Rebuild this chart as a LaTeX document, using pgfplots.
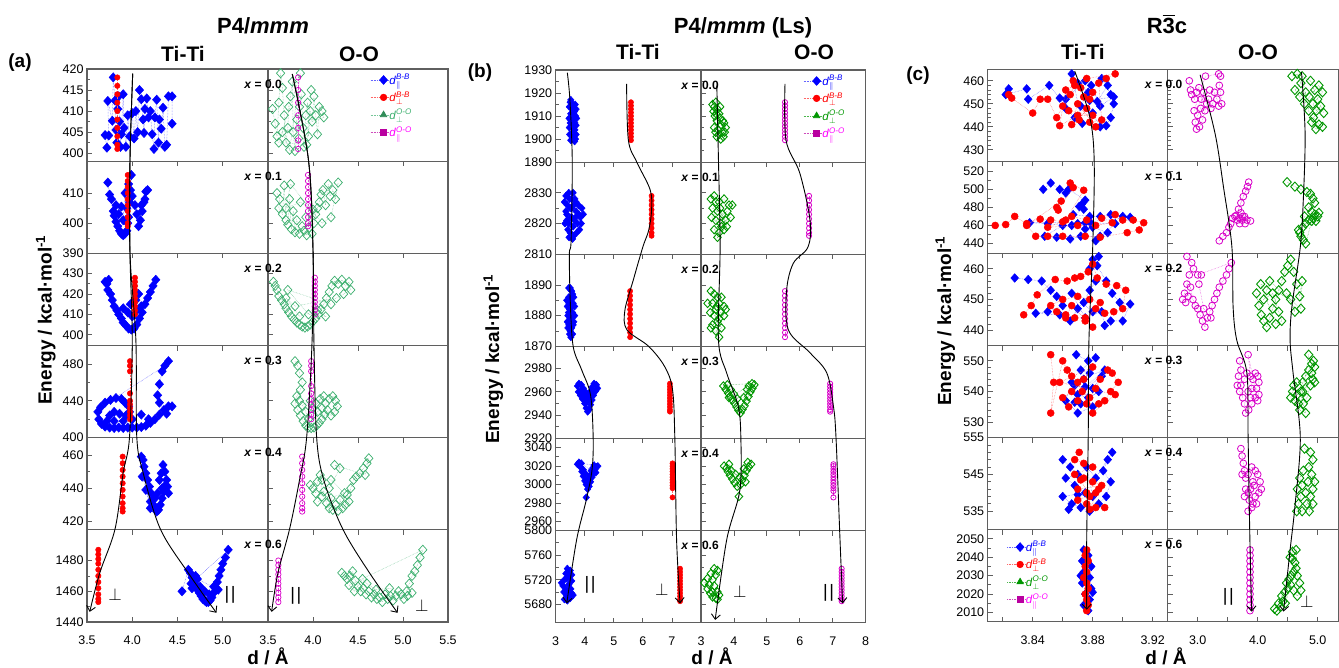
\documentclass[border=0pt]{standalone}
\usepackage{pgfplots}
\pgfplotsset{compat=1.18}
\usepackage{amsmath}
\usepackage{fontspec}
\setmainfont{Liberation Sans}
\usetikzlibrary{arrows.meta}
\definecolor{frameC}{RGB}{95,95,95}
\definecolor{gA}{RGB}{60,175,110}
\definecolor{gB}{RGB}{0,150,0}
\definecolor{mC}{RGB}{215,0,200}
\definecolor{mL}{RGB}{185,0,160}
\definecolor{mT}{RGB}{255,0,255}
\newcommand{\tk}{\fontsize{12.5}{15}\selectfont}
\tikzset{
  sBa/.style={blue!60, densely dotted, line width=0.5pt, mark=diamond*, mark size=4.6pt, mark options={solid, xscale=1.2, draw=blue, fill=blue}},
  sRa/.style={red!60, densely dotted, line width=0.5pt, mark=*, mark size=2.7pt, mark options={solid, draw=red, fill=red}},
  sGa/.style={gA!70, densely dotted, line width=0.5pt, mark=diamond, mark size=4.6pt, mark options={solid, xscale=1.2, draw=gA, line width=0.7pt}},
  sMa/.style={mC!70, densely dotted, line width=0.5pt, mark=o, mark size=2.7pt, mark options={solid, draw=mC, line width=0.7pt}},
  sBb/.style={blue!60, densely dotted, line width=0.5pt, mark=diamond*, mark size=3.6pt, mark options={solid, xscale=1.2, draw=blue, fill=blue}},
  sRb/.style={red!60, densely dotted, line width=0.5pt, mark=*, mark size=2.6pt, mark options={solid, draw=red, fill=red}},
  sGb/.style={gB!70, densely dotted, line width=0.5pt, mark=diamond, mark size=4.2pt, mark options={solid, xscale=1.2, draw=gB, line width=0.9pt}},
  sMb/.style={mC!70, densely dotted, line width=0.5pt, mark=o, mark size=2.6pt, mark options={solid, draw=mC, line width=0.8pt}},
  sBc/.style={blue!60, densely dotted, line width=0.5pt, mark=diamond*, mark size=4.3pt, mark options={solid, xscale=1.2, draw=blue, fill=blue}},
  sRc/.style={red!60, densely dotted, line width=0.5pt, mark=*, mark size=3.5pt, mark options={solid, draw=red, fill=red}},
  sGc/.style={gB!70, densely dotted, line width=0.5pt, mark=diamond, mark size=4.6pt, mark options={solid, xscale=1.2, draw=gB, line width=0.9pt}},
  sMc/.style={mC!70, densely dotted, line width=0.5pt, mark=o, mark size=3.4pt, mark options={solid, draw=mC, line width=0.8pt}},
  lB/.style={blue!60, densely dotted, line width=0.6pt, mark=diamond*, mark size=4.4pt, mark options={solid, xscale=1.2, draw=blue, fill=blue}},
  lR/.style={red!60, densely dotted, line width=0.6pt, mark=*, mark size=3.3pt, mark options={solid, draw=red, fill=red}},
  lGa/.style={gA!70, densely dotted, line width=0.6pt, mark=triangle*, mark size=3.8pt, mark options={solid, draw=gA!80!black, fill=gA!80!black}},
  lGb/.style={gB!70, densely dotted, line width=0.6pt, mark=triangle*, mark size=3.8pt, mark options={solid, draw=gB, fill=gB}},
  lM/.style={mL!70, densely dotted, line width=0.6pt, mark=square*, mark size=3.1pt, mark options={solid, draw=mL, fill=mL}},
  xlab/.style={font=\fontsize{12}{14}\selectfont\bfseries, inner sep=0pt, anchor=center, yshift=-15pt},
  sym/.style={font=\fontsize{18}{20}\selectfont, inner sep=0pt, anchor=center},
  ttl/.style={font=\fontsize{21}{25}\selectfont\bfseries, inner sep=0pt, anchor=base},
}
\newcommand{\pll}{|\kern1.6pt|}
\newcommand{\lgt}[3]{\textcolor{#1}{\textit{d}$^{\textit{#2}}_{#3}$}}
\pgfplotsset{
  legend image code/.code={\draw[mark repeat=2,mark phase=2,#1] plot coordinates {(0pt,0pt) (13pt,0pt) (18pt,0pt)};},
  cell/.style={scale only axis, anchor=north west, clip mode=individual,
    axis line style={draw=frameC, line width=1.2pt},
    tick style={draw=frameC, line width=0.8pt},
    major tick length=5pt, minor tick length=3pt, tick align=inside,
    minor y tick num=1, scaled y ticks=false, scaled x ticks=false,
    /pgf/number format/1000 sep={}, /pgf/number format/assume math mode=true,
    tick label style={font=\tk},
    xticklabel style={yshift=-10.5pt}},
  toprow/.style={xtick=\empty},
  midrow/.style={xtick pos=right, xticklabel=\empty},
  botrow/.style={xtick pos=both},
  TT/.style={ytick pos=left},
  OO/.style={ytick pos=left, yticklabel=\empty},
  pA/.style={xmin=3.5, xmax=5.5, xtick={3.5,4,4.5,5,5.5}},
  pB/.style={xmin=3, xmax=8, xtick={3,4,5,6,7,8}},
  pCT/.style={xmin=3.81, xmax=3.93, xtick={3.82,3.84,3.86,3.88,3.90,3.92}},
  pCO/.style={xmin=2.5, xmax=5.342, xtick={3,3.5,4,4.5,5}},
  aT/.style={cell, pA, TT, width=181pt, height=92.17pt},
  aO/.style={cell, pA, OO, width=180pt, height=92.17pt},
  bT/.style={cell, pB, TT, width=145.3pt, height=92.12pt},
  bO/.style={cell, pB, OO, width=164.7pt, height=92.12pt},
  cT/.style={cell, pCT, TT, width=180pt, height=92.07pt},
  cO/.style={cell, pCO, OO, width=170.5pt, height=92.07pt},
  ov/.style={scale only axis, anchor=north west, hide axis, clip=false, ymin=0, ymax=6},
  cv/.style={black, line width=0.9pt, smooth, tension=0.55, no markers, -{Straight Barb[length=5pt,width=9pt]}},
  lgd/.style={legend cell align=left, legend style={draw=none, fill=none, inner sep=0pt, font=\fontsize{11.5}{13}\selectfont, row sep=5pt, nodes={inner sep=0.5pt}}},
}
\begin{document}
\begin{tikzpicture}
\path[use as bounding box] (0pt,0pt) rectangle (1339pt,668pt);
% ================= titles =================
\node[ttl, font=\fontsize{22}{26}\selectfont\bfseries] at (263pt,634.7pt) {P4/\textit{mmm}};
\node[ttl] at (183pt,606.3pt) {Ti-Ti};
\node[ttl] at (359pt,606.3pt) {O-O};
\node[ttl, font=\fontsize{19}{22}\selectfont\bfseries] at (20pt,600.3pt) {(a)};
\node[ttl, font=\fontsize{22}{26}\selectfont\bfseries] at (743pt,634.7pt) {P4/\textit{mmm} (Ls)};
\node[ttl] at (638pt,608pt) {Ti-Ti};
\node[ttl] at (814pt,608pt) {O-O};
\node[ttl, font=\fontsize{19}{22}\selectfont\bfseries] at (480pt,590.7pt) {(b)};
\node[ttl, font=\fontsize{22}{26}\selectfont\bfseries] at (1167pt,634.7pt) {R$\overline{\textbf{3}}$c};
\node[ttl] at (1083pt,608pt) {Ti-Ti};
\node[ttl] at (1258pt,608pt) {O-O};
\node[ttl, font=\fontsize{19}{22}\selectfont\bfseries] at (918pt,587pt) {(c)};
\node[ttl, rotate=90, font=\fontsize{19}{22}\selectfont\bfseries] at (51.5pt,348pt) {Energy / kcal·mol\textsuperscript{-1}};
\node[ttl, rotate=90, font=\fontsize{19}{22}\selectfont\bfseries] at (499pt,309pt) {Energy / kcal·mol\textsuperscript{-1}};
\node[ttl, rotate=90, font=\fontsize{19}{22}\selectfont\bfseries] at (951pt,347pt) {Energy / kcal·mol\textsuperscript{-1}};
\node[ttl, font=\fontsize{19}{22}\selectfont\bfseries] at (268pt,3pt) {d / Å};
\node[ttl, font=\fontsize{19}{22}\selectfont\bfseries] at (712pt,3pt) {d / Å};
\node[ttl, font=\fontsize{19}{22}\selectfont\bfseries] at (1166pt,3pt) {d / Å};

% ================= PANEL (a) =================
\begin{axis}[aT, toprow, at={(87pt,599pt)}, ymin=398.1, ymax=420, ytick={400,405,410,415,420}]
\addplot[sBa] coordinates {(3.70,404.3)(3.72,401.3)(3.74,404.2)(3.73,412.4)(3.78,407.7)(3.79,418)(3.81,412.5)(3.82,405.5)(3.83,402.5)(3.84,410.5)(3.85,413.5)(3.86,407.5)(3.87,401.5)(3.88,404.5)(3.90,414)(3.91,406)(3.93,401.5)(3.95,409)(3.97,404)(4.00,409.5)(4.02,403.5)(4.04,410)(4.06,405)(4.08,415)(4.10,412.8)(4.12,408)(4.13,404.8)(4.14,410.5)(4.16,413)(4.18,408.5)(4.20,410)(4.22,404.5)(4.24,401)(4.25,408.5)(4.27,412.7)(4.29,402.5)(4.30,408)(4.32,405.8)(4.34,410.8)(4.36,401.5)(4.38,402)(4.40,413.5)(4.44,413.5)(4.44,407)};
\addplot[sRa] coordinates {(3.835,418)(3.835,416)(3.835,414)(3.835,412)(3.835,410)(3.835,408)(3.835,406)(3.835,404)(3.835,402)(3.835,401)};
\end{axis}
\begin{axis}[aO, toprow, at={(268pt,599pt)}, ymin=398.1, ymax=420, ytick={400,405,410,415,420}, lgd, legend style={at={(rel axis cs:0.567,0.95)}, anchor=north west}]
\addlegendimage{lB}\addlegendentry{\lgt{blue}{B-B}{\parallel}}
\addlegendimage{lR}\addlegendentry{\lgt{red}{B-B}{\perp}}
\addlegendimage{lGa}\addlegendentry{\lgt{gA}{O-O}{\perp}}
\addlegendimage{lM}\addlegendentry{\lgt{mT}{O-O}{\parallel}}
\addplot[sGa, forget plot] coordinates {(3.55,410.5)(3.58,407)(3.60,404)(3.62,412)(3.64,419)(3.66,415.5)(3.68,409)(3.70,402.5)(3.72,406)(3.73,411)(3.75,413.5)(3.77,417)(3.78,405)(3.80,400.5)(3.82,408)(3.84,403.5)(3.85,411)(3.87,414)(3.89,406)(3.90,401.5)(3.92,409)(3.94,412)(3.95,404)(3.97,410)(3.99,407.5)(4.01,413.5)(4.03,409)(4.05,404.5)(4.07,411)(4.10,410)(4.12,408.5)(3.66,405)(3.74,400.8)(3.86,419)(3.62,402.5)(3.93,402)(3.98,415)};
\addplot[sMa, forget plot] coordinates {(3.835,418)(3.835,415)(3.835,412)(3.835,409)(3.835,406)(3.835,403)(3.835,401)};
\node[xlab, xshift=-5pt] at (rel axis cs:0,1) {\textit{x} = 0.0};
\end{axis}
\begin{axis}[aT, midrow, at={(87pt,506.83pt)}, ymin=390, ymax=420.6, ytick={390,400,410}]
\addplot[sBa] coordinates {(3.73,413.5)(3.75,409.5)(3.77,408)(3.79,404)(3.80,402.5)(3.82,400.5)(3.84,399)(3.86,397.5)(3.88,396.5)(3.90,396)(3.92,396.5)(3.94,397.5)(3.95,400)(3.96,402)(3.94,405)(3.97,407)(3.98,411)(3.99,416)(3.96,413)(4.00,409)(4.03,406)(4.05,403)(4.07,399)(4.09,401)(4.11,404)(4.13,407)(4.15,410.5)(4.17,411)(4.14,408)(4.10,406)(3.85,403)(3.88,405.5)(3.82,406)(3.90,401)(3.92,410)};
\addplot[sRa] coordinates {(3.95,416)(3.95,414)(3.95,412)(3.95,410)(3.95,408)(3.95,406)(3.95,404)(3.95,402)(3.95,400)(3.95,399)};
\end{axis}
\begin{axis}[aO, midrow, at={(268pt,506.83pt)}, ymin=390, ymax=420.6, ytick={390,400,410}]
\addplot[sGa] coordinates {(3.60,410)(3.63,408)(3.62,405)(3.66,403)(3.68,412.5)(3.70,401)(3.72,399.5)(3.74,408)(3.76,398)(3.78,404)(3.80,397)(3.82,401)(3.85,396.5)(3.88,399)(3.90,397.5)(3.93,396)(3.96,398.5)(3.99,396.5)(4.01,400)(4.03,403)(4.05,405)(4.07,407)(4.09,409.5)(4.11,411)(4.14,406)(4.17,413)(4.19,409)(4.22,411)(4.25,408)(4.28,413.5)(4.20,402)(4.10,400)(3.75,413)(3.70,405)(3.86,407)(4.00,404.5)(3.92,402)};
\addplot[sMa] coordinates {(3.945,416)(3.945,414)(3.945,412)(3.945,410)(3.945,408)(3.945,406)(3.945,404)(3.945,402)(3.945,400)(3.945,399)};
\node[xlab, xshift=-5pt] at (rel axis cs:0,1) {\textit{x} = 0.1};
\end{axis}
\begin{axis}[aT, midrow, at={(87pt,414.66pt)}, ymin=394.7, ymax=440, ytick={400,410,420,430}]
\addplot[sBa] coordinates {(3.70,426)(3.72,425)(3.74,427)(3.73,422)(3.76,420)(3.78,417)(3.80,414)(3.83,412)(3.85,410)(3.88,408)(3.90,406)(3.93,404.5)(3.96,403)(3.99,402.5)(4.02,403)(4.05,405)(4.08,408)(4.11,411)(4.14,415)(4.17,418)(4.20,421)(4.23,424)(4.26,427)(4.10,414)(4.05,412)(4.00,409)(3.95,411)(4.04,417)(3.98,415)(3.90,413)(4.07,420)};
\addplot[sRa] coordinates {(4.03,428)(4.03,426)(4.03,424)(4.03,422)(4.03,420)(4.03,418)(4.03,416)(4.03,414)(4.03,412)(4.03,410)};
\end{axis}
\begin{axis}[aO, midrow, at={(268pt,414.66pt)}, ymin=394.7, ymax=440, ytick={400,410,420,430}]
\addplot[sGa] coordinates {(3.56,426)(3.58,424)(3.60,422)(3.62,419)(3.65,417)(3.68,415)(3.70,413)(3.73,411)(3.76,409)(3.79,407.5)(3.82,406)(3.85,405)(3.88,404)(3.91,403.5)(3.94,404)(3.97,405)(4.00,406.5)(4.03,408)(4.06,410)(4.09,412.5)(4.12,415)(4.15,418)(4.18,421)(4.21,424)(4.24,426.5)(4.28,425)(4.32,427)(4.36,424)(4.40,426)(4.42,422)(4.34,420)(4.26,418)(3.80,414)(3.70,418)(3.85,409)(4.05,412)(4.14,409)(3.95,410)(3.72,422)(4.20,415)};
\addplot[sMa] coordinates {(4.02,428)(4.02,426)(4.02,424)(4.02,422)(4.02,420)(4.02,418)(4.02,416)(4.02,414)(4.02,412)(4.02,410)};
\node[xlab, xshift=-5pt] at (rel axis cs:0,1) {\textit{x} = 0.2};
\end{axis}
\begin{axis}[aT, midrow, at={(87pt,322.49pt)}, ymin=400, ymax=500, ytick={400,440,480}]
\addplot[sBa] coordinates {(3.62,428)(3.63,420)(3.66,415)(3.70,412)(3.75,411)(3.80,410.5)(3.85,411)(3.90,410.5)(3.95,411)(4.00,411)(4.05,411)(4.10,411.5)(4.15,413)(4.20,416)(4.25,420)(4.30,425)(4.35,430)(4.40,434)(4.44,434)(4.38,426)(4.30,438)(4.28,446)(4.30,458)(4.33,472)(4.40,483)(4.36,478)(3.65,433)(3.70,438)(3.76,441)(3.82,443)(3.88,442)(3.92,438)(3.96,434)(3.97,428)(3.93,424)(3.86,426)(3.80,428)(3.75,424)(3.72,418)(3.80,418)(3.90,418)(4.00,420)(4.10,425)(4.18,420)};
\addplot[sRa] coordinates {(3.975,483)(3.975,478)(3.975,472)(3.975,448)(3.975,440)(3.975,436)(3.975,432)(3.975,428)(3.975,424)(3.975,420)};
\end{axis}
\begin{axis}[aO, midrow, at={(268pt,322.49pt)}, ymin=400, ymax=500, ytick={400,440,480}]
\addplot[sGa] coordinates {(3.80,483)(3.83,478)(3.85,470)(3.88,460)(3.86,452)(3.82,445)(3.80,437)(3.83,430)(3.86,424)(3.89,418)(3.92,413)(3.95,411)(3.98,410.5)(4.01,411)(4.04,413)(4.07,416)(4.10,420)(4.13,425)(4.16,430)(4.20,424)(4.24,428)(4.27,434)(4.25,440)(4.22,445)(4.18,442)(4.14,437)(4.10,432)(4.05,428)(4.00,425)(3.95,420)(3.92,428)(3.88,435)(3.97,440)(4.03,437)(4.08,442)(4.12,445)(4.00,432)(3.85,440)};
\addplot[sMa] coordinates {(3.98,483)(3.98,478)(3.98,472)(3.98,456)(3.98,448)(3.98,442)(3.98,436)(3.98,430)(3.98,425)(3.98,420)};
\node[xlab, xshift=-5pt] at (rel axis cs:0,1) {\textit{x} = 0.3};
\end{axis}
\begin{axis}[aT, midrow, at={(87pt,230.32pt)}, ymin=415, ymax=470.4, ytick={420,440,460}]
\addplot[sBa] coordinates {(4.10,459)(4.12,457)(4.13,453)(4.15,449)(4.17,445)(4.19,441)(4.21,437)(4.23,433)(4.25,429)(4.27,426)(4.29,427)(4.31,430)(4.33,434)(4.35,438)(4.37,442)(4.39,441)(4.40,437)(4.38,445)(4.36,450)(4.34,454)(4.32,449)(4.30,445)(4.33,440)(4.28,437)(4.25,434)(4.20,428)(4.15,439)(4.20,432)(4.11,447)};
\addplot[sRa] coordinates {(3.894,459)(3.894,455)(3.894,451)(3.894,447)(3.894,443)(3.894,439)(3.894,435)(3.894,431)(3.894,428)(3.894,426)};
\end{axis}
\begin{axis}[aO, midrow, at={(268pt,230.32pt)}, ymin=415, ymax=470.4, ytick={420,440,460}]
\addplot[sGa] coordinates {(3.97,442)(4.00,440)(4.03,437)(4.05,444)(4.08,448)(4.10,435)(4.12,438)(4.15,431)(4.18,428)(4.20,434)(4.22,427)(4.25,430)(4.28,426.5)(4.30,433)(4.33,428)(4.36,430)(4.38,436)(4.40,432)(4.42,440)(4.45,445)(4.48,447)(4.52,449)(4.56,452)(4.60,455)(4.62,458)(4.58,448)(4.24,454)(4.30,452)(4.18,440)(4.10,445)(4.20,445)(4.35,437)(4.05,432)};
\addplot[sMa] coordinates {(3.88,459)(3.88,455)(3.88,451)(3.88,447)(3.88,443)(3.88,439)(3.88,435)(3.88,431)(3.88,428)(3.88,426)};
\node[xlab, xshift=-5pt] at (rel axis cs:0,1) {\textit{x} = 0.4};
\end{axis}
\begin{axis}[aT, botrow, at={(87pt,138.15pt)}, ymin=1440, ymax=1500, ytick={1440,1460,1480}, xticklabels={3.5,4.0,4.5,5.0,}]
\addplot[sBa] coordinates {(4.55,1460)(4.62,1474)(4.64,1472)(4.66,1469)(4.68,1467)(4.70,1464)(4.72,1461)(4.74,1459)(4.76,1457)(4.78,1455)(4.80,1454)(4.82,1453)(4.84,1453)(4.86,1454)(4.88,1456)(4.90,1459)(4.92,1462)(4.94,1466)(4.96,1470)(4.98,1474)(5.00,1478)(5.03,1482)(5.06,1487)(4.65,1465)(4.70,1470)(4.75,1463)(4.80,1460)(4.85,1458)(4.90,1463)(4.95,1461)(4.72,1468)(4.66,1462)};
\addplot[sRa] coordinates {(3.625,1487)(3.625,1484)(3.625,1481)(3.625,1478)(3.625,1474)(3.625,1470)(3.625,1466)(3.625,1462)(3.625,1458)(3.625,1455)(3.625,1453)};
\node[sym] at (axis cs:3.81,1457.6) {$\perp$};
\node[sym] at (axis cs:5.08,1457.6) {\pll};
\end{axis}
\begin{axis}[aO, botrow, at={(268pt,138.15pt)}, ymin=1440, ymax=1500, ytick={1440,1460,1480}, xticklabels={3.5,4.0,4.5,5.0,5.5}]
\addplot[sGa] coordinates {(4.32,1472)(4.35,1470)(4.38,1468)(4.41,1470)(4.44,1473)(4.47,1467)(4.50,1463)(4.53,1460)(4.56,1462)(4.59,1458)(4.62,1460)(4.65,1456)(4.68,1458)(4.71,1455)(4.74,1456)(4.77,1453)(4.80,1458)(4.83,1455)(4.86,1457)(4.89,1454)(4.92,1457)(4.95,1460)(4.98,1458)(5.01,1455)(5.04,1460)(5.07,1465)(5.10,1470)(5.13,1473)(5.16,1477)(5.19,1482)(5.22,1487)(4.40,1464)(4.46,1460)(4.55,1468)(4.60,1465)(4.70,1461)(4.85,1462)(5.05,1457)(5.10,1459)};
\addplot[sMa] coordinates {(3.615,1480)(3.615,1477)(3.615,1474)(3.615,1471)(3.615,1468)(3.615,1465)(3.615,1462)(3.615,1459)(3.615,1456)(3.615,1453)};
\node[xlab, xshift=-5pt] at (rel axis cs:0,1) {\textit{x} = 0.6};
\node[sym] at (axis cs:3.81,1457) {\pll};
\node[sym] at (axis cs:5.21,1451) {$\perp$};
\end{axis}
\begin{axis}[ov, at={(87pt,599pt)}, width=181pt, height=553.02pt, xmin=3.5, xmax=5.5]
\addplot[cv] coordinates {(4.005,5.95)(3.975,5.01)(3.975,4.0)(4.0,3.06)(3.97,2.01)(3.90,1.62)(3.81,1.01)(3.64,0.53)(3.53,0.11)};
\addplot[cv] coordinates {(4.005,5.95)(3.975,5.01)(3.975,4.0)(4.04,3.06)(4.05,2.01)(4.12,1.62)(4.31,1.01)(4.62,0.53)(4.93,0.10)};
\end{axis}
\begin{axis}[ov, at={(268pt,599pt)}, width=180pt, height=553.02pt, xmin=3.5, xmax=5.5]
\addplot[cv] coordinates {(3.77,5.945)(3.95,5.01)(4.0,4.04)(3.99,3.06)(3.93,2.01)(3.85,1.54)(3.74,1.01)(3.61,0.53)(3.54,0.11)};
\addplot[cv] coordinates {(3.77,5.945)(3.95,5.01)(4.0,4.04)(4.01,3.06)(4.04,2.01)(4.12,1.54)(4.33,1.01)(4.63,0.53)(4.94,0.10)};
\end{axis}

% ================= PANEL (b) =================
\begin{axis}[bT, toprow, at={(555.7pt,598pt)}, ymin=1890, ymax=1930, ytick={1890,1900,1910,1920,1930}]
\addplot[sBb] coordinates {(3.50,1916)(3.55,1914)(3.60,1915)(3.65,1912)(3.52,1911)(3.58,1909)(3.63,1907)(3.68,1910)(3.55,1905)(3.60,1903)(3.48,1902)(3.57,1900)(3.62,1901)(3.66,1904)(3.53,1908)(3.70,1906)(3.65,1899)(3.58,1913)(3.50,1907)(3.62,1911)(3.47,1914)(3.52,1917)(3.67,1915)(3.70,1913)(3.46,1909)(3.72,1909)(3.66,1907)(3.47,1905)(3.70,1902)(3.52,1899.5)(3.58,1902)(3.63,1904)(3.55,1911)(3.68,1900)};
\addplot[sRb] coordinates {(5.59,1916)(5.59,1914.5)(5.59,1913)(5.59,1911.5)(5.59,1910)(5.59,1908.5)(5.59,1907)(5.59,1905.5)(5.59,1904)(5.59,1902.5)(5.59,1901)(5.59,1899.5)};
\end{axis}
\begin{axis}[bO, toprow, at={(701pt,598pt)}, ymin=1890, ymax=1930, ytick={1890,1900,1910,1920,1930}, lgd, legend style={at={(rel axis cs:0.62,0.95)}, anchor=north west}]
\addlegendimage{lB}\addlegendentry{\lgt{blue}{B-B}{\parallel}}
\addlegendimage{lR}\addlegendentry{\lgt{red}{B-B}{\perp}}
\addlegendimage{lGb}\addlegendentry{\lgt{gB}{O-O}{\perp}}
\addlegendimage{lM}\addlegendentry{\lgt{mT}{O-O}{\parallel}}
\addplot[sGb, forget plot] coordinates {(3.35,1915)(3.40,1914)(3.45,1916)(3.50,1913)(3.55,1911)(3.42,1910)(3.48,1908)(3.58,1909)(3.62,1906)(3.70,1907)(3.75,1905)(3.65,1903)(3.55,1902)(3.48,1901)(3.60,1900)(3.68,1901)(3.52,1904)(3.40,1905)(3.38,1912)(3.46,1911)(3.58,1914)(3.66,1908)(3.72,1903)(3.44,1903)};
\addplot[sMb, forget plot] coordinates {(5.55,1916)(5.55,1914.5)(5.55,1913)(5.55,1911.5)(5.55,1910)(5.55,1908.5)(5.55,1907)(5.55,1905.5)(5.55,1904)(5.55,1902.5)(5.55,1901)(5.55,1899.5)};
\node[xlab, xshift=-1pt] at (rel axis cs:0,1) {\textit{x} = 0.0};
\end{axis}
\begin{axis}[bT, midrow, at={(555.7pt,505.88pt)}, ymin=2810, ymax=2840, ytick={2810,2820,2830}]
\addplot[sBb] coordinates {(3.35,2829)(3.45,2830)(3.55,2828)(3.40,2826)(3.50,2825)(3.62,2826)(3.70,2824)(3.38,2823)(3.55,2822)(3.65,2821)(3.80,2823)(3.45,2820)(3.60,2819)(3.75,2820)(3.50,2817)(3.62,2816)(3.85,2822)(3.42,2818)(3.70,2827)(3.55,2825)(3.90,2825)(3.30,2827)(3.35,2824)(3.32,2820)(3.48,2828)(3.60,2830)(3.66,2828)(3.78,2826)(3.88,2820)(3.82,2818)(3.72,2817)(3.58,2815)(3.46,2815.5)(3.38,2821)(3.95,2823)(3.52,2822)(3.68,2822)};
\addplot[sRb] coordinates {(6.30,2829)(6.30,2827.5)(6.30,2826)(6.30,2824.5)(6.30,2823)(6.30,2821.5)(6.30,2820)(6.30,2818.5)(6.30,2817)(6.30,2816)};
\end{axis}
\begin{axis}[bO, midrow, at={(701pt,505.88pt)}, ymin=2810, ymax=2840, ytick={2810,2820,2830}]
\addplot[sGb] coordinates {(3.30,2828)(3.40,2829)(3.55,2827)(3.70,2828)(3.85,2826)(3.95,2826)(3.35,2825)(3.50,2824)(3.65,2823)(3.80,2824)(3.45,2821)(3.60,2820)(3.75,2821)(3.90,2822)(3.40,2818)(3.55,2817)(3.70,2818)(3.50,2815.5)(3.62,2819)(3.32,2822)(3.58,2825)(3.78,2819)(3.45,2827)};
\addplot[sMb] coordinates {(6.28,2829)(6.28,2827.5)(6.28,2826)(6.28,2824.5)(6.28,2823)(6.28,2821.5)(6.28,2820)(6.28,2818.5)(6.28,2817)(6.28,2816)};
\node[xlab, xshift=-1pt] at (rel axis cs:0,1) {\textit{x} = 0.1};
\end{axis}
\begin{axis}[bT, midrow, at={(555.7pt,413.76pt)}, ymin=1870, ymax=1900, ytick={1870,1880,1890}]
\addplot[sBb] coordinates {(3.50,1889)(3.55,1888)(3.45,1886)(3.52,1885)(3.60,1884)(3.40,1883)(3.48,1882)(3.58,1881)(3.42,1880)(3.50,1879)(3.62,1880)(3.45,1877)(3.55,1876)(3.48,1874)(3.52,1873)(3.60,1877)(3.40,1878)(3.65,1883)(3.45,1889)(3.58,1887)(3.62,1886)(3.38,1885)(3.46,1884)(3.55,1883)(3.62,1878)(3.42,1876)(3.58,1874)(3.44,1881)(3.56,1880)(3.50,1875)(3.65,1880)};
\addplot[sRb] coordinates {(5.56,1888)(5.56,1886.5)(5.56,1885)(5.56,1883.5)(5.56,1882)(5.56,1880.5)(5.56,1879)(5.56,1877.5)(5.56,1876)(5.56,1874.5)(5.56,1873)};
\end{axis}
\begin{axis}[bO, midrow, at={(701pt,413.76pt)}, ymin=1870, ymax=1900, ytick={1870,1880,1890}]
\addplot[sGb] coordinates {(3.30,1888)(3.40,1887)(3.50,1886)(3.20,1884)(3.35,1884)(3.55,1884)(3.70,1883)(3.45,1882)(3.60,1881)(3.40,1880)(3.55,1879)(3.70,1880)(3.35,1877)(3.50,1878)(3.62,1876)(3.45,1875)(3.55,1873)(3.30,1876)(3.75,1882)(3.62,1886)(3.28,1881)(3.48,1883)};
\addplot[sMb] coordinates {(5.55,1888)(5.55,1886.5)(5.55,1885)(5.55,1883.5)(5.55,1882)(5.55,1880.5)(5.55,1879)(5.55,1877.5)(5.55,1876)(5.55,1874.5)(5.55,1873)};
\node[xlab, xshift=-1pt] at (rel axis cs:0,1) {\textit{x} = 0.2};
\end{axis}
\begin{axis}[bT, midrow, at={(555.7pt,321.64pt)}, ymin=2920, ymax=2999, ytick={2920,2940,2960,2980}]
\addplot[sBb] coordinates {(3.75,2965)(3.80,2967)(3.88,2966)(3.95,2963)(3.78,2960)(3.85,2957)(3.92,2954)(4.00,2950)(4.05,2946)(4.10,2943)(4.15,2945)(4.20,2949)(4.25,2953)(4.30,2957)(4.38,2961)(4.44,2963)(4.40,2966)(4.32,2967)(4.25,2964)(4.18,2960)(4.10,2957)(4.02,2960)(3.95,2958)(4.08,2952)(4.15,2954)(4.22,2958)(3.90,2962)(4.35,2960)(4.00,2955)};
\addplot[sRb] coordinates {(6.93,2967)(6.93,2964.5)(6.93,2962)(6.93,2959.5)(6.93,2957)(6.93,2954.5)(6.93,2952)(6.93,2949.5)(6.93,2947)(6.93,2944.5)(6.93,2943)};
\end{axis}
\begin{axis}[bO, midrow, at={(701pt,321.64pt)}, ymin=2920, ymax=2999, ytick={2920,2940,2960,2980}]
\addplot[sGb] coordinates {(3.68,2965)(3.75,2962)(3.82,2959)(3.88,2956)(3.95,2953)(4.02,2950)(4.08,2947)(4.14,2944)(4.20,2942)(4.26,2945)(4.32,2948)(4.38,2952)(4.44,2956)(4.50,2960)(4.56,2963)(4.62,2966)(4.55,2967)(3.80,2966)(3.90,2962)(4.00,2958)(4.10,2954)(4.40,2962)(4.30,2955)(3.85,2955)(4.45,2965)};
\addplot[sMb] coordinates {(6.92,2967)(6.92,2964.5)(6.92,2962)(6.92,2959.5)(6.92,2957)(6.92,2954.5)(6.92,2952)(6.92,2949.5)(6.92,2947)(6.92,2944.5)(6.92,2943)};
\node[xlab, xshift=-1pt] at (rel axis cs:0,1) {\textit{x} = 0.3};
\end{axis}
\begin{axis}[bT, midrow, at={(555.7pt,229.52pt)}, ymin=2950, ymax=3050, ytick={2960,2980,3000,3020,3040}]
\addplot[sBb] coordinates {(3.75,3022)(3.80,3024)(3.85,3019)(3.90,3014)(3.95,3009)(4.00,3004)(4.05,3000)(4.10,2995)(4.05,2986)(4.15,2998)(4.20,3003)(4.25,3008)(4.30,3012)(4.35,3016)(4.40,3019)(4.45,3020)(4.38,3013)(4.28,3018)(4.18,3010)(4.10,3006)(3.95,3016)(4.02,3012)(4.22,3015)(3.88,3023)(4.32,3021)};
\addplot[sRb] coordinates {(7.02,2986)(7.02,2996)(7.02,2999)(7.02,3002)(7.02,3005)(7.02,3008)(7.02,3011)(7.02,3014)(7.02,3017)(7.02,3020)(7.02,3023)};
\end{axis}
\begin{axis}[bO, midrow, at={(701pt,229.52pt)}, ymin=2950, ymax=3050, ytick={2960,2980,3000,3020,3040}]
\addplot[sGb] coordinates {(3.70,3020)(3.78,3018)(3.82,3014)(3.88,3010)(3.95,3006)(4.02,3002)(4.10,2998)(4.15,2987)(4.20,3000)(4.25,3005)(4.32,3010)(4.38,3015)(4.45,3019)(4.52,3022)(4.42,3024)(4.30,3017)(4.18,3008)(3.92,3015)(4.05,3011)(3.85,3022)(4.35,3003)};
\addplot[sMb] coordinates {(7.02,2986)(7.02,2993)(7.02,2996)(7.02,2999)(7.02,3002)(7.02,3005)(7.02,3008)(7.02,3011)(7.02,3014)(7.02,3017)(7.02,3020)(7.02,3022)};
\node[xlab, xshift=-1pt] at (rel axis cs:0,1) {\textit{x} = 0.4};
\end{axis}
\begin{axis}[bT, botrow, at={(555.7pt,137.4pt)}, ymin=5650, ymax=5800, ytick={5680,5720,5760,5800}, xticklabels={3,4,5,6,7,}]
\addplot[sBb] coordinates {(3.40,5738)(3.50,5735)(3.35,5730)(3.55,5728)(3.45,5725)(3.30,5720)(3.20,5715)(3.25,5710)(3.35,5705)(3.45,5700)(3.55,5698)(3.60,5695)(3.50,5690)(3.40,5686)(3.30,5688)(3.45,5712)(3.55,5718)(3.38,5695)(3.28,5700)(3.48,5732)(3.38,5722)(3.52,5705)};
\addplot[sRb] coordinates {(7.28,5738)(7.28,5733)(7.28,5728)(7.28,5723)(7.28,5718)(7.28,5713)(7.28,5708)(7.28,5703)(7.28,5698)(7.28,5693)(7.28,5688)(7.28,5685)};
\node[sym] at (axis cs:4.18,5712) {\pll};
\node[sym] at (axis cs:6.65,5704) {$\perp$};
\end{axis}
\begin{axis}[bO, botrow, at={(701pt,137.4pt)}, ymin=5650, ymax=5800, ytick={5680,5720,5760,5800}, xticklabels={3,4,5,6,7,8}]
\addplot[sGb] coordinates {(3.40,5738)(3.50,5735)(3.30,5730)(3.45,5728)(3.20,5722)(3.35,5720)(3.10,5715)(3.25,5712)(3.40,5710)(3.20,5705)(3.35,5700)(3.50,5700)(3.55,5695)(3.45,5690)(3.50,5688)(3.35,5692)(3.28,5698)};
\addplot[sMb] coordinates {(7.27,5738)(7.27,5733)(7.27,5728)(7.27,5723)(7.27,5718)(7.27,5713)(7.27,5708)(7.27,5703)(7.27,5698)(7.27,5693)(7.27,5688)(7.27,5685)};
\node[xlab, xshift=-1pt] at (rel axis cs:0,1) {\textit{x} = 0.6};
\node[sym] at (axis cs:4.18,5701) {$\perp$};
\node[sym] at (axis cs:6.87,5698) {\pll};
\end{axis}
\begin{axis}[ov, at={(555.7pt,598pt)}, width=145.3pt, height=552.72pt, xmin=3, xmax=8]
\addplot[cv] coordinates {(3.40,5.97)(3.49,5.67)(3.57,5.0)(3.53,4.15)(3.47,4.0)(3.5,3.5)(3.6,3.0)(3.9,2.74)(4.2,2.47)(4.29,2.0)(4.25,1.66)(4.05,1.33)(3.72,0.9)(3.38,0.21)};
\addplot[cv] coordinates {(5.44,5.85)(5.5,5.24)(5.79,5.0)(6.25,4.70)(6.3,4.48)(6.2,4.26)(6.0,4.08)(5.67,3.72)(5.38,3.39)(5.45,3.18)(6.2,3.0)(6.75,2.78)(7.02,2.53)(7.1,2.0)(7.16,0.9)(7.28,0.21)};
\end{axis}
\begin{axis}[ov, at={(701pt,598pt)}, width=164.7pt, height=552.72pt, xmin=3, xmax=8]
\addplot[cv] coordinates {(3.48,5.83)(3.53,5.02)(3.58,4.08)(3.53,3.07)(3.78,2.71)(4.13,2.35)(4.21,2.0)(4.18,1.44)(3.78,0.9)(3.43,0.03)};
\addplot[cv] coordinates {(5.55,5.85)(5.58,5.24)(6.0,4.88)(6.31,4.37)(6.25,4.08)(5.80,3.9)(5.6,3.61)(5.65,3.18)(6.31,2.93)(6.82,2.71)(7.02,2.35)(7.1,2.0)(7.22,0.9)(7.30,0.21)};
\end{axis}

% ================= PANEL (c) =================
\begin{axis}[cT, toprow, at={(987.7pt,598.7pt)}, ymin=425, ymax=465, ytick={430,440,450,460}, minor y tick num=4]
\addplot[sBc] coordinates {(3.824,456.5)(3.822,454)(3.836,456.5)(3.837,452)(3.851,458)(3.858,452.5)(3.862,448)(3.868,444)(3.873,441.5)(3.866,463)(3.870,459)(3.877,455)(3.872,449)(3.880,446)(3.885,440)(3.889,440.5)(3.892,444)(3.894,450)(3.892,454)(3.886,461)(3.890,458)(3.883,451)(3.878,451.5)(3.894,453)(3.885,449)(3.879,458)(3.875,460)(3.862,452)};
\addplot[sRc] coordinates {(3.824,454)(3.826,452.5)(3.840,446)(3.845,452)(3.850,452)(3.856,444)(3.860,449)(3.865,454)(3.868,458)(3.867,460)(3.872,457)(3.874,453)(3.878,452)(3.880,455)(3.876,448)(3.871,443)(3.866,441)(3.870,450)(3.882,440)(3.878,442)(3.886,443)(3.884,459)(3.889,461)(3.895,463)(3.876,461)(3.862,456)(3.858,440.5)(3.870,445)(3.880,445)(3.864,447)};
\end{axis}
\begin{axis}[cO, toprow, at={(1167.7pt,598.7pt)}, ymin=425, ymax=465, ytick={430,440,450,460}, minor y tick num=4]
\addplot[sGc] coordinates {(4.57,462)(4.66,463)(4.72,459)(4.62,456)(4.70,453)(4.80,455)(4.78,450)(4.86,453)(4.95,456)(5.02,458)(5.08,455)(4.92,450)(4.98,447)(5.05,449)(4.93,444)(5.02,441)(5.08,440)(4.97,439)(4.90,442)(4.85,447)(4.74,462)(4.88,460)(5.00,452)(5.10,446)};
\addplot[sMc] coordinates {(2.86,460)(2.88,456)(2.90,454)(2.95,452)(2.98,455)(3.02,457)(3.06,452)(3.10,455)(3.05,448)(3.00,445)(2.96,442)(2.98,439)(3.03,440)(3.08,443)(3.12,447)(3.15,450)(3.18,452)(3.22,448)(3.25,450)(3.28,455)(3.32,452)(3.35,449)(3.40,450)(3.38,455)(3.36,458)(3.38,462)(3.35,463)(3.13,462)(2.94,447)(3.20,456)};
\node[xlab, xshift=-4pt] at (rel axis cs:0,1) {\textit{x} = 0.0};
\end{axis}
\begin{axis}[cT, midrow, at={(987.7pt,506.63pt)}, ymin=429, ymax=531, ytick={440,460,480,500,520}]
\addplot[sBc] coordinates {(3.847,500)(3.852,507)(3.858,500)(3.862,496)(3.864,500)(3.875,488)(3.873,484)(3.871,481)(3.874,478)(3.867,472)(3.878,470)(3.885,470)(3.892,472)(3.900,470)(3.905,469)(3.878,464)(3.870,462)(3.866,460)(3.875,456)(3.880,458)(3.890,452)(3.885,448)(3.872,448)(3.865,445)(3.856,447)(3.848,448)(3.860,460)(3.850,462)(3.838,463)(3.875,463)(3.895,462)(3.882,443)};
\addplot[sRc] coordinates {(3.815,460)(3.822,461)(3.828,470)(3.836,462)(3.845,467)(3.852,466)(3.860,464)(3.866,470)(3.876,466)(3.886,468)(3.895,472)(3.900,466)(3.907,466)(3.914,463)(3.911,455)(3.903,452)(3.885,447)(3.875,448)(3.860,448)(3.850,448)(3.842,448)(3.836,460)(3.859,487)(3.856,480)(3.857,477)(3.867,502)(3.865,507)(3.874,499)(3.862,466)(3.850,458)(3.870,460)(3.882,460)(3.893,463)};
\end{axis}
\begin{axis}[cO, midrow, at={(1167.7pt,506.63pt)}, ymin=429, ymax=531, ytick={440,460,480,500,520}]
\addplot[sGc] coordinates {(4.49,508)(4.62,503)(4.72,500)(4.82,497)(4.88,495)(4.92,490)(4.95,485)(4.85,480)(4.90,475)(4.95,472)(5.00,470)(4.92,468)(4.85,466)(4.80,462)(4.75,458)(4.70,452)(4.72,448)(4.76,444)(4.80,440)(4.90,465)(4.97,465)(4.78,470)(4.68,455)(5.02,474)};
\addplot[sMc] coordinates {(3.36,443)(3.42,448)(3.48,452)(3.52,458)(3.55,462)(3.58,468)(3.62,470)(3.66,466)(3.70,462)(3.74,466)(3.78,470)(3.82,466)(3.79,462)(3.75,470)(3.72,474)(3.68,478)(3.72,485)(3.76,492)(3.80,498)(3.83,503)(3.85,508)(3.64,471)(3.88,465)(3.70,468)};
\node[xlab, xshift=-4pt] at (rel axis cs:0,1) {\textit{x} = 0.1};
\end{axis}
\begin{axis}[cT, midrow, at={(987.7pt,414.56pt)}, ymin=435, ymax=465, ytick={440,450,460}, minor y tick num=4]
\addplot[sBc] coordinates {(3.828,457)(3.837,456.5)(3.846,456)(3.852,453)(3.856,451)(3.860,448)(3.850,446)(3.842,445.5)(3.858,445)(3.865,443)(3.870,447)(3.874,449)(3.878,453)(3.882,456)(3.878,460)(3.880,463)(3.884,464)(3.883,461)(3.889,456)(3.893,452)(3.898,449)(3.905,448.5)(3.900,443)(3.892,443)(3.888,441.5)(3.886,446)(3.875,444)(3.866,452)(3.880,446)};
\addplot[sRc] coordinates {(3.834,445)(3.839,448)(3.843,451.5)(3.855,456.5)(3.863,456)(3.868,457)(3.872,457.5)(3.877,459)(3.880,461.5)(3.883,457)(3.889,455)(3.896,454.5)(3.902,453)(3.900,447)(3.894,446)(3.888,445.5)(3.882,447)(3.875,444)(3.868,444)(3.862,445)(3.856,446)(3.852,448)(3.860,450)(3.870,451)(3.878,450)(3.885,449)(3.875,443)(3.880,441)(3.866,448)(3.862,444)};
\end{axis}
\begin{axis}[cO, midrow, at={(1167.7pt,414.56pt)}, ymin=435, ymax=465, ytick={440,450,460}, minor y tick num=4]
\addplot[sGc] coordinates {(3.98,452)(4.02,448)(4.06,445)(4.10,443)(4.15,441)(4.20,444)(4.25,447)(4.30,450)(4.35,453)(4.40,456)(4.45,459)(4.50,461)(4.55,463)(4.60,459)(4.65,455)(4.70,451)(4.74,456)(4.72,447)(4.20,456)(4.15,453)(4.10,450)(4.25,452)(4.35,446)(4.40,443)(4.30,442)(4.05,455)(4.55,450)(4.62,446)(4.48,452)};
\addplot[sMc] coordinates {(2.82,464)(2.90,462)(2.93,460)(2.86,458)(2.82,455)(2.78,452)(2.75,450)(2.80,449)(2.84,451)(2.88,454)(2.92,450)(2.96,448)(3.00,447)(3.04,445)(3.08,443)(3.12,441)(3.16,444)(3.20,446)(3.24,448)(3.28,450)(3.32,452)(3.36,454)(3.42,456)(3.48,458)(3.52,460)(3.56,462)(3.00,458)(3.06,458)(3.02,455)(3.10,447)(3.22,444)};
\node[xlab, xshift=-4pt] at (rel axis cs:0,1) {\textit{x} = 0.2};
\end{axis}
\begin{axis}[cT, midrow, at={(987.7pt,322.49pt)}, ymin=525, ymax=555, ytick={530,540,550}, minor y tick num=4]
\addplot[sBc] coordinates {(3.869,552)(3.877,550)(3.882,551)(3.872,547)(3.878,546)(3.874,544)(3.868,542)(3.880,541)(3.886,545)(3.870,539)(3.877,538)(3.884,540)(3.872,536)(3.880,535)(3.870,533)(3.862,537)(3.866,543)(3.888,547)(3.875,541.5)(3.868,536.5)};
\addplot[sRc] coordinates {(3.852,552)(3.854,543)(3.852,533)(3.860,550)(3.863,547)(3.866,545)(3.870,543)(3.873,540)(3.878,538)(3.882,541)(3.885,544)(3.890,547)(3.893,546)(3.897,543)(3.892,540)(3.888,537)(3.884,536)(3.876,536)(3.870,537)(3.864,535)(3.860,538)(3.866,540)(3.874,544)(3.880,548)(3.858,543)(3.895,539)(3.880,533)};
\end{axis}
\begin{axis}[cO, midrow, at={(1167.7pt,322.49pt)}, ymin=525, ymax=555, ytick={530,540,550}, minor y tick num=4]
\addplot[sGc] coordinates {(4.60,542)(4.65,543)(4.58,540)(4.55,538)(4.62,537)(4.68,536)(4.72,540)(4.75,543)(4.80,545)(4.85,547)(4.90,549)(4.93,550)(4.95,548)(4.90,546)(4.95,543)(4.88,542)(4.82,538)(4.76,536)(4.80,533)(4.70,534)(4.85,552)(4.75,540)(4.92,544)(4.66,539)};
\addplot[sMc] coordinates {(3.70,550)(3.72,547)(3.68,545)(3.66,542)(3.70,540)(3.75,538)(3.72,542)(3.78,544)(3.82,546)(3.88,545)(3.92,544)(3.96,546)(4.00,545)(4.02,543)(3.98,541)(4.02,539)(3.96,538)(3.90,536)(3.85,534)(3.80,533)(3.78,536)(3.84,540)(3.90,541)(3.84,552)(4.00,537)(3.88,538)};
\node[xlab, xshift=-4pt] at (rel axis cs:0,1) {\textit{x} = 0.3};
\end{axis}
\begin{axis}[cT, midrow, at={(987.7pt,230.42pt)}, ymin=530, ymax=555, ytick={535,545,555}, minor y tick num=4]
\addplot[sBc] coordinates {(3.860,549)(3.865,547)(3.870,545)(3.862,544)(3.868,542)(3.875,540)(3.860,539)(3.866,537)(3.872,536)(3.878,535)(3.884,537)(3.889,539)(3.892,543)(3.887,546)(3.890,549)(3.893,551)(3.882,544)(3.876,547)(3.880,539)(3.870,539.5)(3.864,535.5)};
\addplot[sRc] coordinates {(3.871,551)(3.868,549)(3.874,548)(3.880,547)(3.868,545)(3.874,544)(3.880,543)(3.886,542)(3.870,541)(3.876,540)(3.882,540)(3.870,538)(3.876,537)(3.882,536)(3.888,536)(3.878,535.5)(3.884,541)(3.872,543.5)(3.878,539)};
\end{axis}
\begin{axis}[cO, midrow, at={(1167.7pt,230.42pt)}, ymin=530, ymax=555, ytick={535,545,555}, minor y tick num=4]
\addplot[sGc] coordinates {(4.78,552)(4.88,551)(4.92,549)(4.85,547)(4.76,546)(4.70,544)(4.74,542)(4.66,541)(4.72,539)(4.68,537)(4.65,535)(4.74,535)(4.82,537)(4.88,539)(4.92,541)(4.95,543)(4.90,545)(4.84,543)(4.80,540)(4.86,535)(4.92,537)};
\addplot[sMc] coordinates {(3.72,552)(3.74,550)(3.76,548)(3.78,546)(3.74,545)(3.80,544)(3.84,545)(3.90,547)(3.96,546)(3.92,543)(3.88,541)(3.84,540)(3.80,541)(3.86,538)(3.92,537)(3.96,539)(4.02,540)(4.06,541)(4.04,543)(3.98,537)(3.90,536)(3.84,535)(3.94,542)(3.78,539)(4.00,545)};
\node[xlab, xshift=-4pt] at (rel axis cs:0,1) {\textit{x} = 0.4};
\end{axis}
\begin{axis}[cT, botrow, at={(987.7pt,138.35pt)}, ymin=2005, ymax=2055, ytick={2010,2020,2030,2040,2050}, xticklabels={,3.84,,3.88,,3.92}, lgd, legend style={at={(rel axis cs:0.105,0.88)}, anchor=north west}]
\addlegendimage{lB}\addlegendentry{\lgt{blue}{B-B}{\parallel}}
\addlegendimage{lR}\addlegendentry{\lgt{red}{B-B}{\perp}}
\addlegendimage{lGb}\addlegendentry{\lgt{gB}{O-O}{\perp}}
\addlegendimage{lM}\addlegendentry{\lgt{mT}{O-O}{\parallel}}
\addplot[sBc, forget plot] coordinates {(3.874,2044)(3.877,2041)(3.873,2038)(3.879,2035)(3.874,2032)(3.878,2029)(3.873,2026)(3.879,2023)(3.875,2020)(3.878,2017)(3.874,2014)(3.877,2011)(3.880,2021)(3.872,2030)};
\addplot[sRc, forget plot] coordinates {(3.876,2044)(3.875,2041)(3.877,2038)(3.875,2035)(3.876,2032)(3.874,2029)(3.876,2026)(3.877,2023)(3.875,2020)(3.876,2017)(3.877,2014)(3.876,2011)};
\end{axis}
\begin{axis}[cO, botrow, at={(1167.7pt,138.35pt)}, ymin=2005, ymax=2055, ytick={2010,2020,2030,2040,2050}, xticklabels={3.0,,4.0,,5.0}]
\addplot[sGc] coordinates {(4.32,2011)(4.38,2013)(4.42,2016)(4.35,2015)(4.40,2019)(4.45,2021)(4.50,2023)(4.48,2026)(4.52,2028)(4.56,2030)(4.60,2032)(4.64,2034)(4.62,2037)(4.58,2039)(4.54,2040)(4.58,2043)(4.64,2044)(4.66,2030)(4.70,2026)(4.72,2022)(4.66,2019)(4.60,2022)(4.55,2025)(4.46,2015)(4.28,2012)};
\addplot[sMc] coordinates {(3.872,2044)(3.872,2041)(3.872,2038)(3.872,2035)(3.872,2032)(3.872,2029)(3.872,2026)(3.872,2023)(3.872,2020)(3.872,2017)(3.872,2014)(3.872,2011)};
\node[xlab, xshift=-4pt] at (rel axis cs:0,1) {\textit{x} = 0.6};
\node[sym] at (axis cs:3.51,2018.6) {\pll};
\node[sym] at (axis cs:4.82,2015.9) {$\perp$};
\end{axis}
\begin{axis}[ov, at={(987.7pt,598.7pt)}, width=180pt, height=552.42pt, xmin=3.81, xmax=3.93]
\addplot[cv] coordinates {(3.868,5.98)(3.878,5.485)(3.881,5.0)(3.880,4.07)(3.8775,3.06)(3.877,2.0)(3.876,0.89)(3.876,0.13)};
\end{axis}
\begin{axis}[ov, at={(1167.7pt,598.7pt)}, width=170.5pt, height=552.42pt, xmin=2.5, xmax=5.342]
\addplot[cv] coordinates {(3.04,5.94)(3.29,5.3)(3.43,4.72)(3.57,4.07)(3.59,3.42)(3.65,3.06)(3.82,2.7)(3.84,2.0)(3.87,0.89)(3.90,0.11)};
\addplot[cv] coordinates {(4.73,5.97)(4.79,5.31)(4.76,4.58)(4.71,4.07)(4.57,3.42)(4.54,3.06)(4.59,2.7)(4.71,2.0)(4.62,1.25)(4.54,0.78)(4.43,0.11)};
\end{axis}
\end{tikzpicture}
\end{document}
